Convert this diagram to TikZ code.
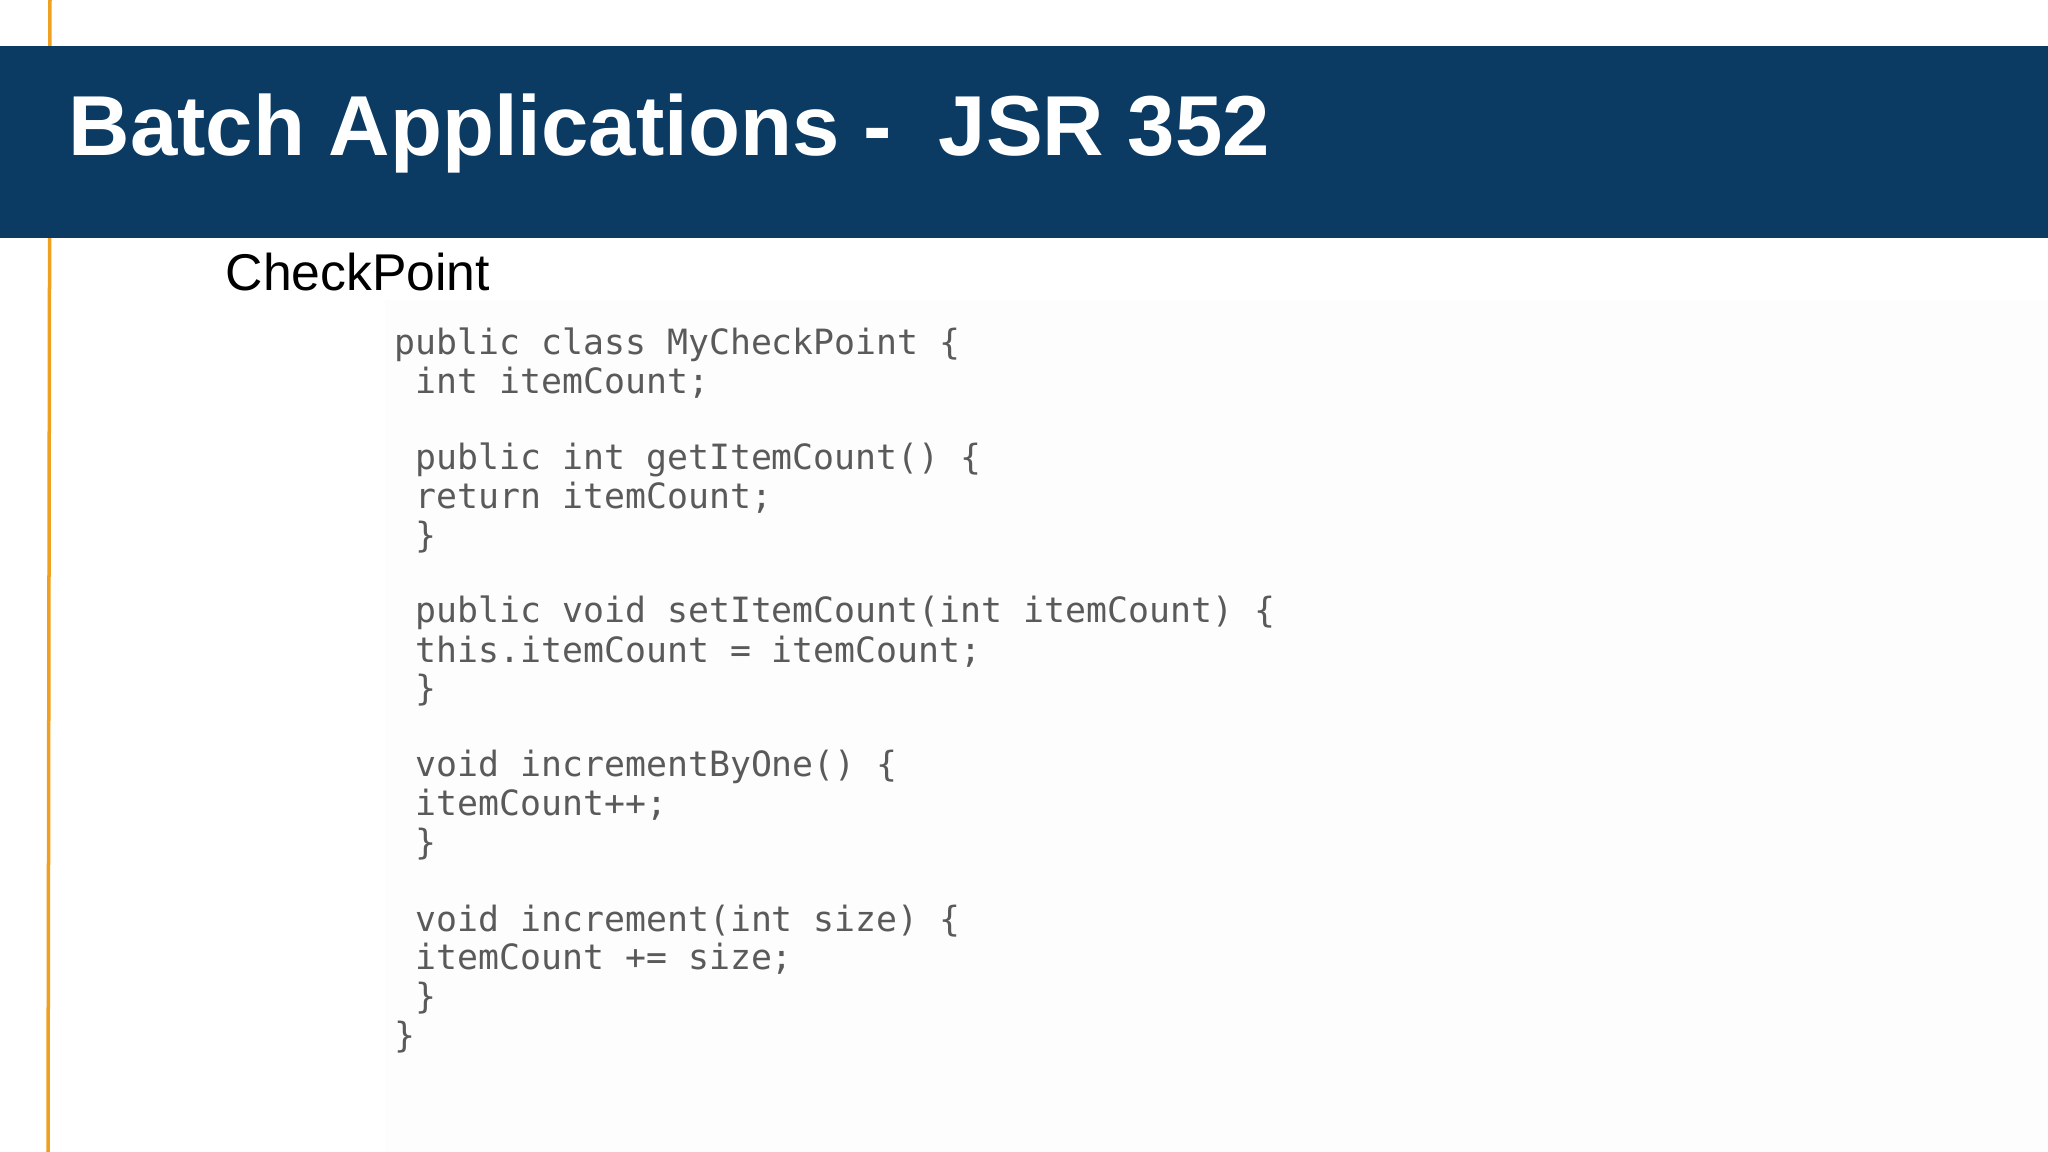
\documentclass[tikz,border=0pt]{standalone}
\usepackage{fontspec}
\setmainfont{Liberation Sans}
\newfontfamily\codefont{DejaVu Sans Mono}
\definecolor{hdr}{HTML}{0B3A63}
\definecolor{orng}{HTML}{F0A020}
\definecolor{codec}{HTML}{5A5A5A}
\tikzset{codeline/.style={anchor=west,inner sep=0pt,text=codec,font=\codefont\fontsize{9.9}{11}\selectfont}}
\begin{document}
\begin{tikzpicture}[x=0.01cm,y=-0.01cm]
\useasboundingbox (0,0) rectangle (2048,1152);
\fill[white] (0,0) rectangle (2048,1152);
\fill[black!0.8] (385,300) rectangle (2048,1152);
\draw[orng,line width=0.035cm] (50,0) -- (48,1152);
\fill[hdr] (0,46) rectangle (2048,238);
\node[anchor=west,inner sep=0pt,text=white,font=\bfseries\fontsize{24.2}{28}\selectfont] (title) at (68,134) {Batch Applications -\ \ JSR 352};
\node[anchor=west,inner sep=0pt,font=\fontsize{14.7}{17}\selectfont] (cp) at (225,272) {CheckPoint};
\foreach \n/\xx/\yy/\t in {
 l1/394/262/{public class MyCheckPoint \{},
 l2/415/291/{int itemCount;},
 l3/415/350/{public int getItemCount() \{},
 l4/415/379/{return itemCount;},
 l5/415/409/{\}},
 l6/415/467/{public void setItemCount(int itemCount) \{},
 l7/415/497/{this.itemCount = itemCount;},
 l8/415/526/{\}},
 l9/415/585/{void incrementByOne() \{},
 l10/415/614/{itemCount++;},
 l11/415/644/{\}},
 l12/415/703/{void increment(int size) \{},
 l13/415/732/{itemCount += size;},
 l14/415/762/{\}},
 l15/394/792/{\}}}
 \node[codeline] (\n) at (\xx,{\yy*1.306+3}) {\t};
\end{tikzpicture}
\end{document}
